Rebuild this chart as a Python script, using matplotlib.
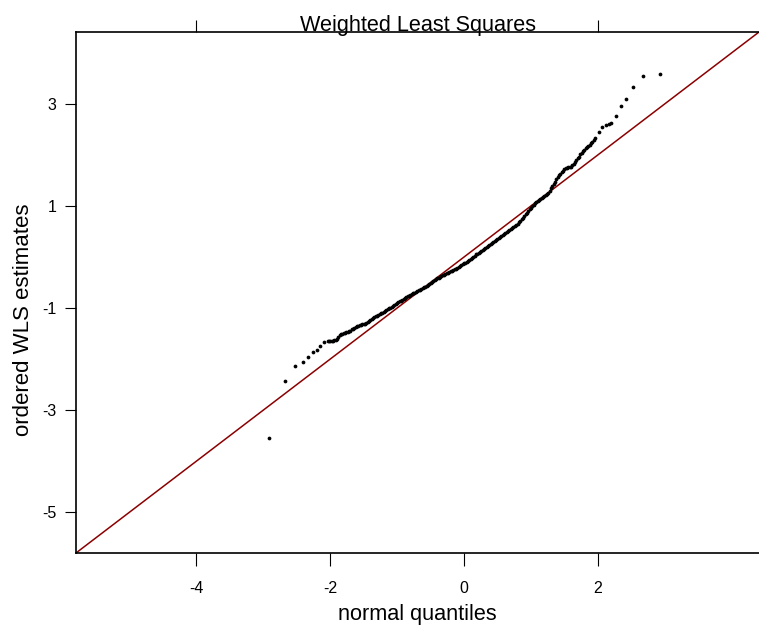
import matplotlib as mpl
mpl.use('Agg')
from matplotlib import pyplot as plt

plt.rcParams['font.family'] = ['Liberation Sans', 'DejaVu Sans']

TITLE = "Weighted Least Squares"
XLABEL = "normal quantiles"
YLABEL = "ordered WLS estimates"

# 下尾稀疏点 (normal quantile, ordered estimate)
low_x = [-2.92, -2.67, -2.52, -2.41, -2.33, -2.26, -2.20, -2.15, -2.10]
low_y = [-3.54, -2.43, -2.14, -2.06, -1.96, -1.86, -1.83, -1.74, -1.66]

# 中间密集部分
mid_x = [-2.04, -2.02, -2.00, -1.98, -1.96, -1.94, -1.92, -1.90, -1.88, -1.86,
         -1.84, -1.82, -1.80, -1.78, -1.76, -1.74, -1.72, -1.70, -1.68, -1.66,
         -1.64, -1.62, -1.60, -1.58, -1.56, -1.54, -1.52, -1.50, -1.48, -1.46,
         -1.44, -1.42, -1.40, -1.38, -1.36, -1.34, -1.32, -1.30, -1.28, -1.26,
         -1.24, -1.22, -1.20, -1.18, -1.16, -1.14, -1.12, -1.10, -1.08, -1.06,
         -1.04, -1.02, -1.00, -0.98, -0.96, -0.94, -0.92, -0.90, -0.88, -0.86,
         -0.84, -0.82, -0.80, -0.78, -0.76, -0.74, -0.72, -0.70, -0.68, -0.66,
         -0.64, -0.62, -0.60, -0.58, -0.56, -0.54, -0.52, -0.50, -0.48, -0.46,
         -0.44, -0.42, -0.40, -0.38, -0.36, -0.34, -0.32, -0.30, -0.28, -0.26,
         -0.24, -0.22, -0.20, -0.18, -0.16, -0.14, -0.12, -0.10, -0.08, -0.06,
         -0.04, -0.02, 0.00, 0.02, 0.04, 0.06, 0.08, 0.10, 0.12, 0.14,
         0.16, 0.18, 0.20, 0.22, 0.24, 0.26, 0.28, 0.30, 0.32, 0.34,
         0.36, 0.38, 0.40, 0.42, 0.44, 0.46, 0.48, 0.50, 0.52, 0.54,
         0.56, 0.58, 0.60, 0.62, 0.64, 0.66, 0.68, 0.70, 0.72, 0.74,
         0.76, 0.78, 0.80, 0.82, 0.84, 0.86, 0.88, 0.90, 0.92, 0.94,
         0.96, 0.98, 1.00, 1.02, 1.04, 1.06, 1.08, 1.10, 1.12, 1.14,
         1.16, 1.18, 1.20, 1.22, 1.24, 1.26, 1.28, 1.30, 1.32, 1.34,
         1.36, 1.38, 1.40, 1.42, 1.44, 1.46, 1.48, 1.50, 1.52, 1.54,
         1.56, 1.58, 1.60, 1.62, 1.64, 1.66, 1.68, 1.70, 1.72, 1.74,
         1.76, 1.78, 1.80, 1.82, 1.84, 1.86, 1.88, 1.90, 1.92, 1.94, 1.96]
mid_y = [-1.64, -1.64, -1.64, -1.64, -1.64, -1.63, -1.63, -1.60, -1.57, -1.53,
         -1.50, -1.50, -1.49, -1.48, -1.47, -1.46, -1.45, -1.44, -1.42, -1.41,
         -1.39, -1.38, -1.36, -1.35, -1.34, -1.33, -1.32, -1.32, -1.31, -1.30,
         -1.28, -1.26, -1.23, -1.21, -1.19, -1.18, -1.16, -1.15, -1.13, -1.12,
         -1.10, -1.09, -1.07, -1.06, -1.04, -1.02, -1.00, -0.99, -0.97, -0.96,
         -0.94, -0.92, -0.90, -0.89, -0.87, -0.86, -0.84, -0.83, -0.81, -0.79,
         -0.77, -0.76, -0.74, -0.73, -0.71, -0.70, -0.68, -0.67, -0.65, -0.64,
         -0.62, -0.61, -0.59, -0.58, -0.56, -0.54, -0.52, -0.51, -0.49, -0.47,
         -0.45, -0.44, -0.42, -0.41, -0.39, -0.38, -0.36, -0.35, -0.33, -0.32,
         -0.31, -0.30, -0.28, -0.27, -0.25, -0.24, -0.23, -0.21, -0.19, -0.18,
         -0.16, -0.14, -0.12, -0.11, -0.09, -0.07, -0.05, -0.03, -0.01, 0.01,
         0.03, 0.05, 0.06, 0.08, 0.10, 0.12, 0.14, 0.16, 0.18, 0.20,
         0.22, 0.24, 0.26, 0.28, 0.30, 0.32, 0.34, 0.36, 0.38, 0.40,
         0.42, 0.44, 0.46, 0.48, 0.49, 0.51, 0.53, 0.55, 0.57, 0.59,
         0.61, 0.63, 0.65, 0.68, 0.71, 0.74, 0.77, 0.81, 0.84, 0.87,
         0.90, 0.94, 0.97, 1.00, 1.02, 1.05, 1.07, 1.09, 1.11, 1.13,
         1.15, 1.17, 1.19, 1.21, 1.23, 1.26, 1.30, 1.35, 1.39, 1.43,
         1.47, 1.52, 1.56, 1.60, 1.63, 1.66, 1.69, 1.72, 1.74, 1.75,
         1.76, 1.77, 1.77, 1.80, 1.83, 1.87, 1.90, 1.94, 1.97, 2.01,
         2.04, 2.07, 2.10, 2.13, 2.15, 2.18, 2.20, 2.23, 2.26, 2.30, 2.33]

# 上尾稀疏点
high_x = [2.02, 2.07, 2.13, 2.17, 2.20, 2.27, 2.34, 2.42, 2.53, 2.67, 2.93]
high_y = [2.46, 2.55, 2.59, 2.60, 2.62, 2.76, 2.96, 3.09, 3.33, 3.55, 3.59]

qx = low_x + mid_x + high_x
qy = low_y + mid_y + high_y

XTICKS = [-4, -2, 0, 2]
YTICKS = [-5, -3, -1, 1, 3]
LIMITS = (-5.80, 4.41)

fig = plt.figure(figsize=(7.59, 6.30), dpi=100)
ax = fig.add_axes([76 / 759, 1 - 553 / 630, 1 - 76 / 759, (553 - 32) / 630])

ax.axline((0, 0), slope=1, color='#8b0000', lw=1.1, zorder=1)
ax.plot(qx, qy, 'o', ms=2.7, mew=0, color='black', zorder=2)

ax.set_xlim(*LIMITS)
ax.set_ylim(*LIMITS)
ax.set_xticks(XTICKS)
ax.set_yticks(YTICKS)
ax.set_xticklabels([str(t) for t in XTICKS])
ax.set_yticklabels([str(t) for t in YTICKS])
ax.tick_params(axis='x', length=9, width=0.8, pad=11, labelsize=11.5)
ax.tick_params(axis='y', length=8, width=0.8, pad=6, labelsize=11.5)

for side in ['left', 'bottom', 'top']:
    ax.spines[side].set_linewidth(1.2)
ax.spines['right'].set_visible(False)

# 顶部只有 -4 和 2 两个刻度
top = ax.secondary_xaxis('top')
top.set_xticks([-4, 2])
top.set_xticklabels([])
top.tick_params(length=9, width=0.8)
top.spines['top'].set_visible(False)

fig.text(417.5 / 759, 1 - 31 / 630, TITLE, ha='center', va='baseline', fontsize=15.6)
fig.text(417.5 / 759, 1 - 620 / 630, XLABEL, ha='center', va='baseline', fontsize=15.6)
fig.text(24 / 759, 1 - 320 / 630, YLABEL, ha='center', va='center',
         rotation=90, fontsize=16)

fig.savefig('out.png', dpi=100)
